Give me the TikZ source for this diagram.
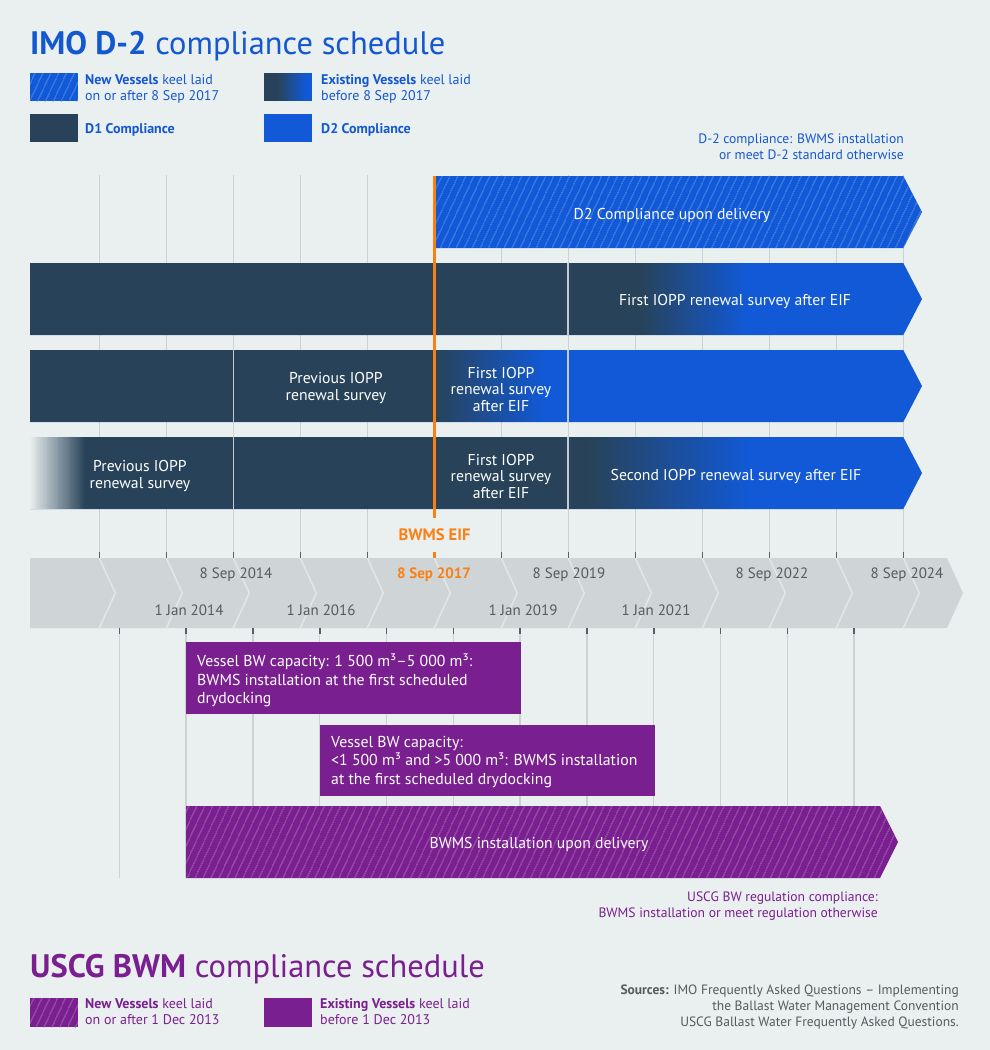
\documentclass[tikz,border=0pt]{standalone}
\usepackage{fontspec}
\setmainfont{PT Sans}
\usetikzlibrary{patterns.meta}
\definecolor{bgc}{RGB}{234,239,240}
\definecolor{darkc}{RGB}{40,67,89}
\definecolor{bluec}{RGB}{17,89,214}
\definecolor{titleblue}{RGB}{20,88,208}
\definecolor{purplec}{RGB}{122,31,143}
\definecolor{orangec}{RGB}{250,128,20}
\definecolor{bandc}{RGB}{207,212,214}
\definecolor{chevc}{RGB}{226,230,232}
\definecolor{gridc}{RGB}{204,209,212}
\definecolor{tickc}{RGB}{90,95,99}
\definecolor{graytext}{RGB}{88,90,94}
\definecolor{inbar}{RGB}{196,202,206}
\definecolor{hatchblue}{RGB}{50,115,224}
\definecolor{hatchpurple}{RGB}{145,70,165}
% horizontal gradient made of thin strips: x1,x2,y1,y2,left colour,right colour
\newcommand{\hgrad}[6]{%
  \foreach \gi in {0,...,59}{%
    \pgfmathsetmacro{\gxa}{#1+(#2-#1)*\gi/60}%
    \pgfmathsetmacro{\gxb}{#1+(#2-#1)*(\gi+1)/60+0.3}%
    \pgfmathtruncatemacro{\gpc}{round(100-100*(\gi+0.5)/60)}%
    \fill[#5!\gpc!#6] (\gxa,#3) rectangle (\gxb,#4);
  }}
\begin{document}
\begin{tikzpicture}[x=1pt,y=-1pt,
  hatchover/.style={postaction={pattern={Lines[angle=65,distance=6.5pt,line width=0.45pt]}, pattern color=#1}},
  bartext/.style={text=white, font=\fontsize{15.7}{16.5}\selectfont, align=center, inner sep=0},
  boxtext/.style={text=white, font=\fontsize{15.8}{18.5}\selectfont, align=left, inner sep=0, anchor=north west},
  datelbl/.style={text=graytext, font=\fontsize{15}{17}\selectfont, inner sep=0, anchor=base},
  legtext/.style={font=\fontsize{14}{16}\selectfont, align=left, inner sep=0, anchor=north west},
  gridline/.style={draw=gridc, line width=1.3},
  tickline/.style={draw=tickc, line width=1.6},
  inbarline/.style={draw=inbar, line width=1.2}]

\useasboundingbox (0,0) rectangle (990,1050);
\fill[bgc] (0,0) rectangle (990,1050);

% ---------- titles and legend (IMO) ----------
\node[anchor=base west, inner sep=0, text=titleblue, font=\fontsize{32.5}{36}\selectfont] (imotitle) at (30,54.3) {\textbf{IMO D-2} compliance schedule};

\path[fill=bluec, hatchover=hatchblue] (30,73) rectangle (78,101);
\node[legtext, text=titleblue] (legnew) at (85,74) {\textbf{New Vessels} keel laid\\on or after 8 Sep 2017};
\fill[darkc] (264,73) rectangle (279,101);
\hgrad{278}{306}{73}{101}{darkc}{bluec}
\fill[bluec] (305.5,73) rectangle (312,101);
\node[legtext, text=titleblue] (legexist) at (321,74) {\textbf{Existing Vessels} keel laid\\before 8 Sep 2017};
\fill[darkc] (30,114) rectangle (78,142);
\node[anchor=base west, inner sep=0, text=titleblue, font=\fontsize{14}{16}\selectfont\bfseries] (legd1) at (85,133.3) {D1 Compliance};
\fill[bluec] (264,114) rectangle (312,142);
\node[anchor=base west, inner sep=0, text=titleblue, font=\fontsize{14}{16}\selectfont\bfseries] (legd2) at (321,133.3) {D2 Compliance};

\node[anchor=north east, align=right, inner sep=0, text=titleblue, font=\fontsize{13.6}{16}\selectfont] (d2note) at (904,134) {D-2 compliance: BWMS installation\\or meet D-2 standard otherwise};

% ---------- upper grid lines ----------
\foreach \k in {0,1,2,3,4,6,7,8,9,10,11,12} {
  \draw[gridline] ({99.3+67*\k},175) -- ({99.3+67*\k},552);
}

% ---------- row 1 ----------
\path[fill=bluec, hatchover=hatchblue] (434,176) -- (903.3,176) -- (922,212) -- (903.3,248) -- (434,248) -- cycle;
\node[bartext, anchor=base] (r1txt) at (672,219) {D2 Compliance upon delivery};

% ---------- row 2 ----------
\fill[bluec] (30,263) -- (903.3,263) -- (922,299) -- (903.3,335) -- (30,335) -- cycle;
\fill[darkc] (30,263) rectangle (641,335);
\hgrad{640}{746}{263}{335}{darkc}{bluec}
\draw[inbarline] (568,263) -- (568,335);
\node[bartext, anchor=base] (r2txt) at (735,305) {First IOPP renewal survey after EIF};

% ---------- row 3 ----------
\fill[bluec] (30,350) -- (903.3,350) -- (922,386) -- (903.3,422) -- (30,422) -- cycle;
\fill[darkc] (30,350) rectangle (435,422);
\hgrad{434}{545}{350}{422}{darkc}{bluec}
\draw[inbarline] (233.3,350) -- (233.3,422);
\draw[inbarline] (568,350) -- (568,422);
\node[bartext] (r3prev) at (336,388) {Previous IOPP\\renewal survey};
\node[bartext] (r3first) at (501,389) {First IOPP\\renewal survey\\after EIF};

% ---------- row 4 ----------
\fill[bluec] (30,437) -- (903.3,437) -- (922,473) -- (903.3,509) -- (30,509) -- cycle;
\fill[darkc] (84,437) rectangle (591,509);
\hgrad{30}{85}{437}{509}{bgc}{darkc}
\hgrad{590}{750}{437}{509}{darkc}{bluec}
\draw[inbarline] (233.3,437) -- (233.3,509);
\draw[inbarline] (568,437) -- (568,509);
\node[bartext] (r4prev) at (140,476) {Previous IOPP\\renewal survey};
\node[bartext] (r4first) at (501,476) {First IOPP\\renewal survey\\after EIF};
\node[bartext, anchor=base] (r4second) at (736,480) {Second IOPP renewal survey after EIF};

% ---------- orange EIF line ----------
\draw[orangec, line width=3] (434,176) -- (434,518);
\node[anchor=base, inner sep=0, text=orangec, font=\fontsize{16.5}{18}\selectfont\bfseries] (eif) at (434.5,540) {BWMS EIF};

% ---------- time band ----------
\fill[bandc] (30,558) -- (947,558) -- (963,593) -- (947,628) -- (30,628) -- cycle;
\foreach \k in {0,...,12} {
  \draw[chevc, line width=1.6] ({99.3+67*\k},558) -- ({115.3+67*\k},593) -- ({99.3+67*\k},628);
}
\foreach \k in {0,1,2,3,4,6,7,8,9,10,11,12} {
  \draw[tickline] ({99.3+67*\k},552) -- ({99.3+67*\k},558);
}
\draw[orangec, line width=3] (434,552) -- (434,558);

\node[datelbl] (d2014) at (236,578.3) {8 Sep 2014};
\node[anchor=base, inner sep=0, text=orangec, font=\fontsize{15}{17}\selectfont\bfseries] (d2017) at (434,578.3) {8 Sep 2017};
\node[datelbl] (d2019) at (569,578.3) {8 Sep 2019};
\node[datelbl] (d2022) at (772,578.3) {8 Sep 2022};
\node[datelbl] (d2024) at (907,578.3) {8 Sep 2024};
\node[datelbl] (j2014) at (189,615.7) {1 Jan 2014};
\node[datelbl] (j2016) at (321,615.7) {1 Jan 2016};
\node[datelbl] (j2019) at (523,615.7) {1 Jan 2019};
\node[datelbl] (j2021) at (656,615.7) {1 Jan 2021};

% ---------- lower grid ----------
\foreach \k in {0,...,11} {
  \draw[gridline] ({119.3+66.8*\k},634) -- ({119.3+66.8*\k},878);
  \draw[tickline] ({119.3+66.8*\k},628) -- ({119.3+66.8*\k},634);
}

% ---------- USCG boxes ----------
\fill[purplec] (186,642) rectangle (521,714);
\node[boxtext] (box1txt) at (197,654) {Vessel BW capacity: 1 500 m³–5 000 m³:\\BWMS installation at the first scheduled\\drydocking};
\fill[purplec] (320,725) rectangle (654.5,796);
\node[boxtext] (box2txt) at (331,736) {Vessel BW capacity:\\<1 500 m³ and >5 000 m³: BWMS installation\\at the first scheduled drydocking};
\path[fill=purplec, hatchover=hatchpurple] (186,806) -- (880,806) -- (898,842) -- (880,878) -- (186,878) -- cycle;
\node[bartext, anchor=base] (box3txt) at (539,848) {BWMS installation upon delivery};

\node[anchor=north east, align=right, inner sep=0, text=purplec, font=\fontsize{13.6}{15.5}\selectfont] (uscgnote) at (878,892) {USCG BW regulation compliance:\\BWMS installation or meet regulation otherwise};

% ---------- USCG title and legend ----------
\node[anchor=base west, inner sep=0, text=purplec, font=\fontsize{32.5}{36}\selectfont] (uscgtitle) at (30,977.3) {\textbf{USCG BWM} compliance schedule};
\path[fill=purplec, hatchover=hatchpurple] (30,998) rectangle (78,1027);
\node[legtext, text=purplec] (ulegnew) at (85,998.5) {\textbf{New Vessels} keel laid\\on or after 1 Dec 2013};
\fill[purplec] (264,998) rectangle (312,1027);
\node[legtext, text=purplec] (ulegexist) at (320,998.5) {\textbf{Existing Vessels} keel laid\\before 1 Dec 2013};

% ---------- sources ----------
\node[anchor=north east, align=right, inner sep=0, text=graytext, font=\fontsize{13.5}{16}\selectfont] (sources) at (959,985) {\textbf{Sources:} IMO Frequently Asked Questions – Implementing\\the Ballast Water Management Convention\\USCG Ballast Water Frequently Asked Questions.};

\end{tikzpicture}
\end{document}
